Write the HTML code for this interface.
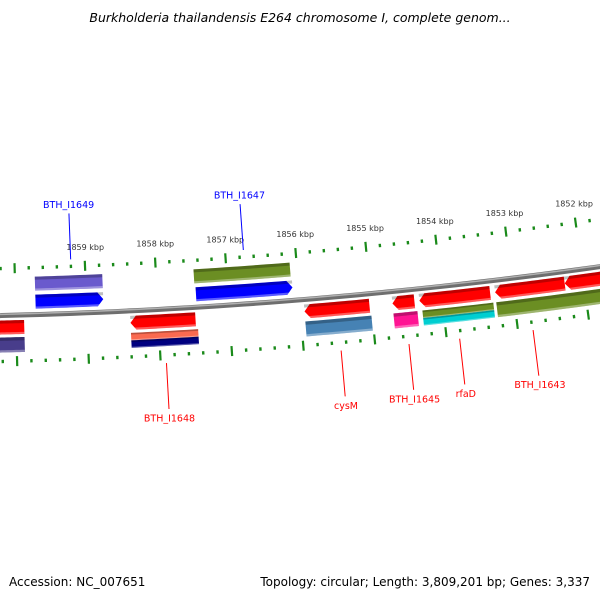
<!DOCTYPE html>
<html><head><meta charset="utf-8"><style>
html,body{margin:0;padding:0;background:#fff;}
svg{display:block;font-family:"DejaVu Sans","Liberation Sans",sans-serif;}
</style></head><body>
<svg id="map" width="600" height="600" viewBox="0 0 600 600">
<text x="300" y="22" text-anchor="middle" font-size="12.5" font-style="italic" fill="#000">Burkholderia thailandensis E264 chromosome I, complete genom...</text>
<text x="9" y="586" font-size="12" fill="#000">Accession: NC_007651</text>
<text x="590" y="586" text-anchor="end" font-size="12" fill="#000">Topology: circular; Length: 3,809,201 bp; Genes: 3,337</text>
<g id="tracks"></g>
</svg>
<script>
// feature data (kbp)
const featNames = ['purple-bar','gene-BTH_I1649','olive-bar-upper','gene-BTH_I1647','red-left','purple-left','gene-BTH_I1648','salmon-bar','navy-bar','gene-cysM','steelblue-bar','gene-BTH_I1645','magenta-bar','gene-rfaD','olive-bar-rfaD','cyan-bar','gene-BTH_I1643','red-right','olive-bar-right'];
const featStart = [1859.718,1859.718,1857.465,1857.451,1860.366,1860.366,1858.394,1858.394,1858.394,1855.944,1855.944,1854.704,1854.704,1854.324,1854.296,1854.296,1853.254,1852.268,1853.254];
const featEnd   = [1858.761,1858.761,1856.099,1856.085,1859.887,1859.887,1857.479,1857.451,1857.451,1855.028,1855.014,1854.394,1854.366,1853.324,1853.296,1853.296,1852.268,1851.400,1851.400];
const featDir   = ['N','R','N','R','N','N','L','N','N','L','N','L','N','L','N','N','L','L','N'];
const featTrack = ['o2','o1','o2','o1','i1','i2','i1','i2a','i2b','i1','i2','i1','i2','i1','i2a','i2b','i1','i1','i2'];
const featColor = ['#6a5acd','#0000ff','#6b8e23','#0000ff','#ff0000','#483d8b','#ff0000','#fa6a50','#000080','#ff0000','#4682b4','#ff0000','#ff1493','#ff0000','#6b8e23','#00ced1','#ff0000','#ff0000','#6b8e23'];
const labelText = ['BTH_I1649','BTH_I1647','BTH_I1648','cysM','BTH_I1645','rfaD','BTH_I1643'];
const labelPos  = [1859.20,1856.74,1857.92,1855.48,1854.53,1853.82,1852.79];
const labelSide = ['out','out','in','in','in','in','in'];
const rulerStartKbp = 1851;
const rulerEndKbp = 1861;
const rulerLabelKbp = [1859,1858,1857,1856,1855,1854,1853,1852];

const XC=-122, YC=-4883, R0=5200, K=0.01366, PHI0=0.04018;
const NS='http://www.w3.org/2000/svg';
const g=document.getElementById('tracks');
function phi(kbp){return PHI0+(1859-kbp)*K;}
function pt(kbp,r){const a=phi(kbp);return [XC+r*Math.sin(a),YC+r*Math.cos(a)];}
function mk(tag,attrs){const e=document.createElementNS(NS,tag);for(const k in attrs)e.setAttribute(k,attrs[k]);g.appendChild(e);return e;}
const tracks={o1:[-20,-6],o2:[-38,-24],i1:[5,19],i2:[22,37],i2a:[22,29.5],i2b:[29.5,37]};

// backbone
(function(){let d='';for(let i=0;i<=60;i++){const kb=1861-i*0.2;const p=pt(kb,R0);d+=(i?'L':'M')+p[0].toFixed(2)+','+p[1].toFixed(2);}
const s=mk('path',{d:d,stroke:'#6e6e6e','stroke-width':5,fill:'none'});


const h=mk('path',{d:d,stroke:'#b0b0b0','stroke-width':1.5,fill:'none',transform:'translate(0,-1.2)'});

})();

function band(s,e,r1,r2,dir){
  const hs=Math.max(s,e),he=Math.min(s,e);
  const ah=0.08, n=12, pts=[];
  let l=hs,rr=he;
  if(dir==='R') rr=he+ah;
  if(dir==='L') l=hs-ah;
  for(let i=0;i<=n;i++){pts.push(pt(l+(rr-l)*i/n,r1));}
  if(dir==='R'){pts.push(pt(he,(r1+r2)/2));}
  for(let i=n;i>=0;i--){pts.push(pt(l+(rr-l)*i/n,r2));}
  if(dir==='L'){pts.push(pt(hs,(r1+r2)/2));}
  return pts.map(p=>p[0].toFixed(2)+','+p[1].toFixed(2)).join(' ');
}
for(let i=0;i<featNames.length;i++){
  const t=tracks[featTrack[i]];const r1=R0+t[0],r2=R0+t[1];
  const p=mk('polygon',{points:band(featStart[i],featEnd[i],r1,r2,featDir[i]),fill:featColor[i]});
  
  
  const th=(r2-r1);
  const top=mk('polygon',{points:band(featStart[i],featEnd[i],r1,r1+th*0.22,'N'),fill:'#000','fill-opacity':0.25});
  
  
  const bot=mk('polygon',{points:band(featStart[i],featEnd[i],r2-th*0.15,r2,'N'),fill:'#fff','fill-opacity':0.35});
  
  
}

// rulers
[[R0-47,'upper'],[R0+46,'lower']].forEach(([r,nm])=>{
  const steps=Math.round((rulerEndKbp-rulerStartKbp)/0.2);
  for(let i=0;i<=steps;i++){
    const kb=rulerStartKbp+i*0.2;const major=Math.abs(kb-Math.round(kb))<1e-6;
    const a=pt(kb,r-(major?5:1.7)),b=pt(kb,r+(major?5:1.7));
    const l=mk('line',{x1:a[0],y1:a[1],x2:b[0],y2:b[1],stroke:'#1a8a1a','stroke-width':major?2.2:2.4});
    
    
  }
});
rulerLabelKbp.forEach(kb=>{
  const p=pt(kb,R0-47-19);
  const t=mk('text',{x:p[0]+1,y:p[1]+3,'text-anchor':'middle','font-size':8,fill:'#333'});
  t.textContent=kb+' kbp';
  
  
});

// gene labels
for(let i=0;i<labelText.length;i++){
  const out=labelSide[i]==='out';const sg=out?-1:1;
  const a=pt(labelPos[i],R0+sg*54),b=pt(labelPos[i],R0+sg*100),c=pt(labelPos[i],R0+sg*109);
  const col=out?'#0000ff':'#ff0000';
  const l=mk('line',{x1:a[0],y1:a[1],x2:b[0],y2:b[1],stroke:col,'stroke-width':1});
  
  
  const t=mk('text',{x:c[0],y:c[1]+3.5,'text-anchor':'middle','font-size':9.5,fill:col});
  t.textContent=labelText[i];
  
  
}
</script>
</body></html>
